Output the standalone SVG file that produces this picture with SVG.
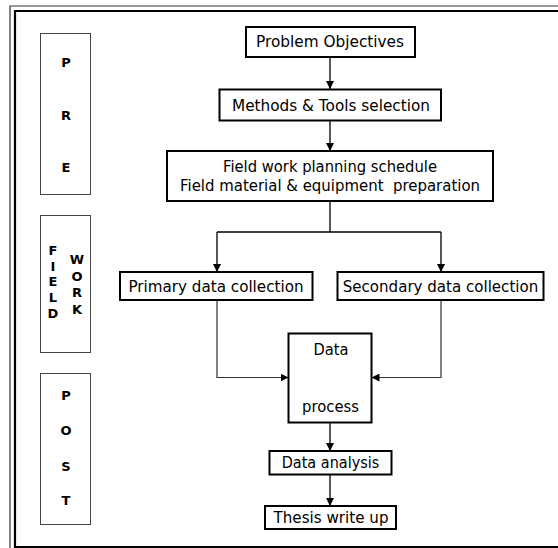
<svg xmlns="http://www.w3.org/2000/svg" width="558" height="548" viewBox="0 0 558 548">
  <style>
    .frame-outer { fill: none; stroke: #333; stroke-width: 1.2; }
    .frame-inner { fill: none; stroke: #000; stroke-width: 2.2; }
    .phase { fill: #fff; stroke: #444; stroke-width: 1; }
    .phase-txt { font-family: "Comic Sans MS", "DejaVu Sans", sans-serif; font-size: 13px; font-weight: bold; fill: #000; text-anchor: middle; }
    .box { fill: #fff; stroke: #000; stroke-width: 2; }
    .txt { font-family: "Comic Sans MS", "DejaVu Sans", sans-serif; font-size: 15.5px; fill: #000; text-anchor: middle; }
    .arrow { fill: none; stroke: #000; stroke-width: 1.3; marker-end: url(#head); }
    .elbow { fill: none; stroke: #333; stroke-width: 1.2; marker-end: url(#head); }
    .line { fill: none; stroke: #000; stroke-width: 1.3; }
  </style>
  <defs>
    <marker id="head" markerUnits="userSpaceOnUse" markerWidth="8" markerHeight="8" viewBox="0 0 8 8" refX="8" refY="4" orient="auto">
      <path d="M0,0 L8,4 L0,8 Z" fill="#000"/>
    </marker>
  </defs>

  <rect width="558" height="548" fill="#fff"/>

  <!-- double page frame (right and lower outer edges run off the sheet) -->
  <path class="frame-outer" d="M570,6 H10 V560"/>
  <path class="frame-inner" d="M570,11 H15 V547 H570"/>

  <!-- phase columns -->
  <g id="phase-pre">
    <rect class="phase" x="40.5" y="33.5" width="50" height="161"/>
    <text class="phase-txt" x="66" y="67">P</text>
    <text class="phase-txt" x="66" y="120">R</text>
    <text class="phase-txt" x="66" y="172">E</text>
  </g>
  <g id="phase-fieldwork">
    <rect class="phase" x="40.5" y="215.5" width="50" height="137"/>
    <text class="phase-txt" x="53" y="255">F</text>
    <text class="phase-txt" x="53" y="271">I</text>
    <text class="phase-txt" x="53" y="286">E</text>
    <text class="phase-txt" x="53" y="302">L</text>
    <text class="phase-txt" x="53" y="318">D</text>
    <text class="phase-txt" x="77" y="264">W</text>
    <text class="phase-txt" x="77" y="281">O</text>
    <text class="phase-txt" x="77" y="297">R</text>
    <text class="phase-txt" x="77" y="314">K</text>
  </g>
  <g id="phase-post">
    <rect class="phase" x="40.5" y="373.5" width="50" height="151"/>
    <text class="phase-txt" x="66" y="400">P</text>
    <text class="phase-txt" x="66" y="435">O</text>
    <text class="phase-txt" x="66" y="471">S</text>
    <text class="phase-txt" x="66" y="505">T</text>
  </g>

  <!-- connectors -->
  <g id="connectors">
    <path class="arrow" d="M330,57 V89"/>
    <path class="arrow" d="M330,121 V151"/>
    <path class="line" d="M330,201 V232"/>
    <path class="arrow" d="M217,232 H441 M217,232 V272"/>
    <path class="arrow" d="M441,232 V272"/>
    <path class="elbow" d="M217,300 V377.5 H288.5"/>
    <path class="elbow" d="M441,300 V377.5 H371.5"/>
    <path class="arrow" d="M330,422.5 V451"/>
    <path class="arrow" d="M330,474.5 V506"/>
  </g>

  <!-- process steps -->
  <g id="problem-objectives">
    <rect class="box" x="246" y="27" width="169" height="30"/>
    <text class="txt" x="330" y="47" textLength="148" lengthAdjust="spacingAndGlyphs">Problem Objectives</text>
  </g>
  <g id="methods-tools">
    <rect class="box" x="219.5" y="89.5" width="221.5" height="31"/>
    <text class="txt" x="331" y="110.5" textLength="198" lengthAdjust="spacingAndGlyphs">Methods &amp; Tools selection</text>
  </g>
  <g id="fieldwork-planning">
    <rect class="box" x="167" y="151" width="326" height="50"/>
    <text class="txt" x="330" y="171.5" textLength="214" lengthAdjust="spacingAndGlyphs">Field work planning schedule</text>
    <text class="txt" x="330" y="191" textLength="300" lengthAdjust="spacingAndGlyphs" xml:space="preserve">Field material &amp; equipment  preparation</text>
  </g>
  <g id="primary-data">
    <rect class="box" x="120" y="272" width="192.5" height="28"/>
    <text class="txt" x="216" y="291.5" textLength="175" lengthAdjust="spacingAndGlyphs">Primary data collection</text>
  </g>
  <g id="secondary-data">
    <rect class="box" x="337.5" y="272" width="206" height="28"/>
    <text class="txt" x="440.5" y="291.5" textLength="195.5" lengthAdjust="spacingAndGlyphs">Secondary data collection</text>
  </g>
  <g id="data-process">
    <rect class="box" x="288.5" y="333.5" width="83" height="89"/>
    <text class="txt" x="331" y="354.5" textLength="35" lengthAdjust="spacingAndGlyphs">Data</text>
    <text class="txt" x="330.5" y="411.5" textLength="57" lengthAdjust="spacingAndGlyphs">process</text>
  </g>
  <g id="data-analysis">
    <rect class="box" x="269.5" y="451" width="122" height="23.5"/>
    <text class="txt" x="330.5" y="468" textLength="97.5" lengthAdjust="spacingAndGlyphs">Data analysis</text>
  </g>
  <g id="thesis-write-up">
    <rect class="box" x="265" y="506" width="131" height="23"/>
    <text class="txt" x="331" y="523" textLength="115" lengthAdjust="spacingAndGlyphs">Thesis write up</text>
  </g>
</svg>
